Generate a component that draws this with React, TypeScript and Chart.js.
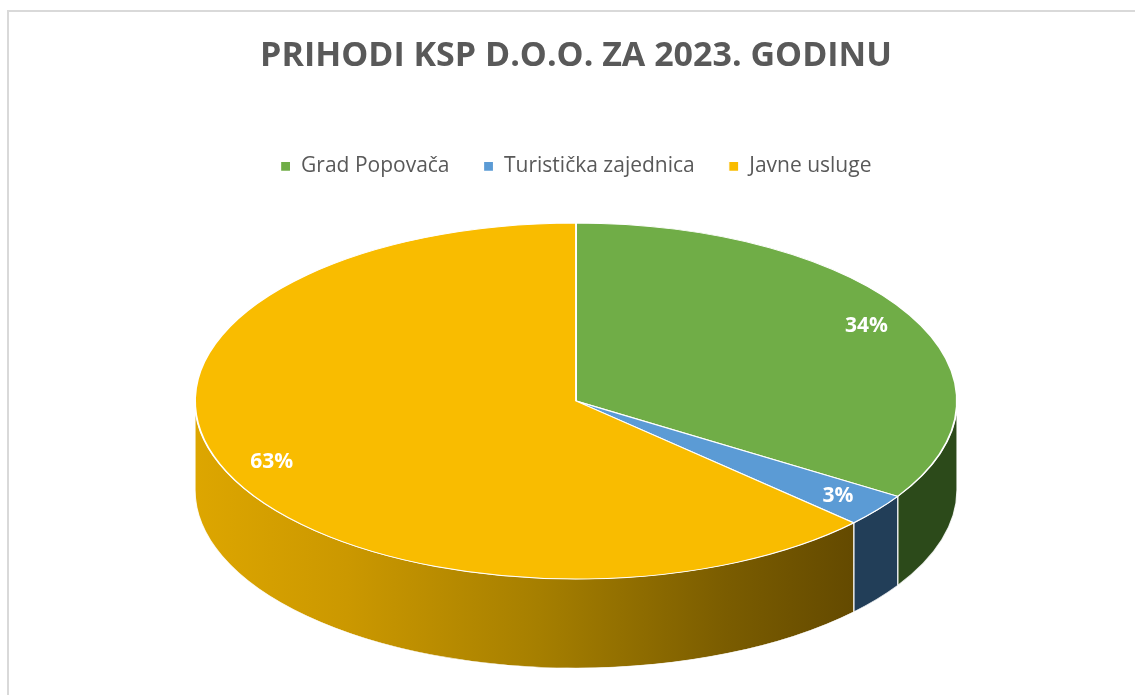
import React, { useEffect, useRef } from 'react';
import { Chart, registerables } from 'chart.js';

Chart.register(...registerables);

const TITLE = 'PRIHODI KSP D.O.O. ZA 2023. GODINU';
const categories = ['Grad Popovača', 'Turistička zajednica', 'Javne usluge'];
const values = [34, 3, 63];
const topColors = ['#70AD47', '#5B9BD5', '#F9BC00'];
const sideColors = ['#2C4A1A', '#223E58', 'gradient'];

const TILT = 178 / 381; // vertical squash of the pie top
const DEPTH = 89; // thickness of the pie in px
const LABEL_RADIUS = 0.87;

const pie3d = {
  id: 'pie3d',
  beforeDatasetsDraw(chart: any) {
    const meta = chart.getDatasetMeta(0);
    const arcs = meta.data;
    if (!arcs || !arcs.length) return;
    const area = chart.chartArea;
    const p0 = arcs[0].getProps(['x', 'y', 'outerRadius'], true);
    const ax = p0.x, ay = p0.y, R = p0.outerRadius;
    const RX = (area.right - area.left) / 2;
    const RY = RX * TILT;
    const CX = (area.left + area.right) / 2;
    const CY = area.bottom - DEPTH - RY;
    const sx = RX / R, sy = RY / R;
    const d = DEPTH / sy;
    const ctx = chart.ctx;
    ctx.save();
    ctx.translate(CX, CY);
    ctx.scale(sx, sy);
    ctx.translate(-ax, -ay);
    const grad = ctx.createLinearGradient(ax - R, 0, ax + R, 0);
    grad.addColorStop(0, '#DDA600');
    grad.addColorStop(0.2, '#CB9800');
    grad.addColorStop(0.45, '#A67F00');
    grad.addColorStop(0.7, '#7A5C00');
    grad.addColorStop(0.9, '#5F4600');
    grad.addColorStop(1, '#5A4300');
    arcs.forEach((arc: any, i: number) => {
      const { startAngle, endAngle } = arc.getProps(['startAngle', 'endAngle'], true);
      const a1 = Math.max(startAngle, 0);
      const a2 = Math.min(endAngle, Math.PI);
      if (a2 <= a1) return;
      ctx.beginPath();
      ctx.arc(ax, ay, R, a1, a2);
      ctx.arc(ax, ay + d, R, a2, a1, true);
      ctx.closePath();
      ctx.fillStyle = sideColors[i] === 'gradient' ? grad : sideColors[i];
      ctx.fill();
      ctx.strokeStyle = 'rgba(255,255,255,0.85)';
      ctx.lineWidth = 0.8;
      ctx.stroke();
    });
    chart.$pie3d = { ax, ay, R, CX, CY, sx, sy };
  },
  afterDatasetsDraw(chart: any) {
    if (!chart.$pie3d) return;
    const ctx = chart.ctx;
    ctx.restore();
    const { R, CX, CY, sx, sy } = chart.$pie3d;
    const arcs = chart.getDatasetMeta(0).data;
    const data = chart.data.datasets[0].data as number[];
    const total = data.reduce((a: number, b: number) => a + b, 0);
    ctx.save();
    ctx.fillStyle = '#FFFFFF';
    ctx.font = 'bold 21px "Open Sans"';
    ctx.textAlign = 'center';
    ctx.textBaseline = 'middle';
    arcs.forEach((arc: any, i: number) => {
      const { startAngle, endAngle } = arc.getProps(['startAngle', 'endAngle'], true);
      const mid = (startAngle + endAngle) / 2;
      const px = CX + sx * LABEL_RADIUS * R * Math.cos(mid);
      const py = CY + sy * LABEL_RADIUS * R * Math.sin(mid);
      ctx.fillText(Math.round((data[i] / total) * 100) + '%', px, py);
    });
    ctx.restore();
  },
};

export default function App() {
  const ref = useRef<HTMLCanvasElement | null>(null);
  useEffect(() => {
    if (!ref.current) return;
    const chart = new Chart(ref.current, {
      type: 'pie',
      data: {
        labels: categories,
        datasets: [
          {
            data: values,
            backgroundColor: topColors,
            borderColor: '#FFFFFF',
            borderWidth: 1.2,
            clip: false,
          } as any,
        ],
      },
      options: {
        animation: false,
        responsive: true,
        maintainAspectRatio: false,
        layout: { padding: { left: 195, right: 178, top: 0, bottom: 27 } },
        plugins: {
          title: {
            display: true,
            text: TITLE,
            color: '#595959',
            font: { family: 'Open Sans', size: 34, weight: 'bold' },
            padding: { top: 36, bottom: 45 },
          },
          legend: {
            position: 'top',
            labels: {
              boxWidth: 10,
              boxHeight: 10,
              color: '#595959',
              font: { family: 'Open Sans', size: 21 },
              padding: 34,
            },
          },
          tooltip: { enabled: false },
        },
      } as any,
      plugins: [pie3d],
    });
    return () => chart.destroy();
  }, []);
  return (
    <div style={{ position: 'fixed', left: 0, top: 0, width: 1135, height: 695, background: '#fff', overflow: 'hidden' }}>
      <div style={{ position: 'absolute', left: 7, top: 10, width: 1140, height: 700, border: '2px solid #D9D9D9' }} />
      <div style={{ position: 'absolute', left: 0, top: 0, width: 1135, height: 695 }}>
        <canvas ref={ref} />
      </div>
    </div>
  );
}
